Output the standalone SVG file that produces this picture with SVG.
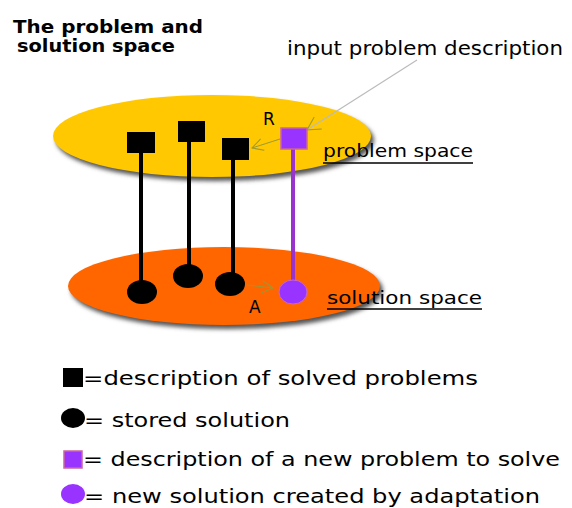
<svg xmlns="http://www.w3.org/2000/svg" width="572" height="508" viewBox="0 0 572 508">
<style>
.t{font-family:"DejaVu Sans","Liberation Sans",sans-serif;fill:#000}
.title{font-family:"DejaVu Sans","Liberation Sans",sans-serif;font-weight:bold;font-size:17px;fill:#000}
.blk{fill:#000}
.pur{fill:#9933FF;stroke:#CC6699;stroke-width:1.5}
.stem{stroke:#000;stroke-width:4}
.pstem{stroke:#9933CC;stroke-width:4}
.ul{stroke:#000;stroke-width:1.5}
.thin{stroke:#999933;stroke-width:1;fill:none}
</style>
<defs>
<filter id="sh" x="-10%" y="-20%" width="120%" height="150%"><feGaussianBlur stdDeviation="2"/></filter>
<marker id="ah" markerWidth="14" markerHeight="14" refX="12" refY="7" orient="auto" markerUnits="userSpaceOnUse"><path d="M1,1 L12,7 L1,13" fill="none" stroke="#999933" stroke-width="1"/></marker>
<marker id="ahg" markerWidth="16" markerHeight="16" refX="14" refY="8" orient="auto" markerUnits="userSpaceOnUse"><path d="M1,1 L14,8 L1,15" fill="none" stroke="#999933" stroke-width="1"/></marker>
</defs>
<rect width="572" height="508" fill="#fff"/>
<g id="title">
<text class="title" x="13" y="33" textLength="190" lengthAdjust="spacingAndGlyphs">The problem and</text>
<text class="title" x="17" y="52" textLength="158" lengthAdjust="spacingAndGlyphs">solution space</text>
</g>
<g id="problem-space">
<ellipse cx="215" cy="140" rx="159" ry="41" fill="#555" filter="url(#sh)"/>
<ellipse cx="212" cy="136" rx="159" ry="41" fill="#FFC800"/>
<text class="t" x="323" y="157" font-size="18" textLength="150" lengthAdjust="spacingAndGlyphs">problem space</text>
<line class="ul" x1="323" y1="163" x2="473" y2="163"/>
</g>
<g id="solution-space">
<ellipse cx="227" cy="290" rx="156" ry="39" fill="#555" filter="url(#sh)"/>
<ellipse cx="224" cy="286" rx="156" ry="39" fill="#FF6600"/>
<text class="t" x="327" y="304" font-size="18" textLength="155" lengthAdjust="spacingAndGlyphs">solution space</text>
<line class="ul" x1="327" y1="309" x2="482" y2="309"/>
</g>
<g id="connectors">
<line class="stem" x1="141" y1="150" x2="141" y2="292"/>
<line class="stem" x1="189" y1="140" x2="189" y2="276"/>
<line class="stem" x1="233" y1="158" x2="233" y2="284"/>
<line class="pstem" x1="293" y1="148" x2="293" y2="292"/>
<line stroke="#BBBBBB" stroke-width="1.2" x1="417" y1="60" x2="307" y2="130" marker-end="url(#ahg)"/>
<line class="thin" x1="280" y1="139" x2="252" y2="148" marker-end="url(#ah)"/>
<line class="thin" x1="247" y1="285" x2="273" y2="288" marker-end="url(#ah)"/>
</g>
<g id="p1"><rect class="blk" x="127" y="132" width="28" height="21"/></g>
<g id="p2"><rect class="blk" x="178" y="121" width="27" height="21"/></g>
<g id="p3"><rect class="blk" x="222" y="138" width="27" height="22"/></g>
<g id="pnew"><rect class="pur" x="281" y="128" width="26" height="21"/></g>
<g id="s1"><ellipse class="blk" cx="142" cy="292" rx="15" ry="12"/></g>
<g id="s2"><ellipse class="blk" cx="188" cy="276" rx="15" ry="12"/></g>
<g id="s3"><ellipse class="blk" cx="230" cy="284" rx="15" ry="12"/></g>
<g id="snew"><ellipse cx="293" cy="292" rx="14" ry="12" fill="#9933FF" stroke="#CC66CC" stroke-width="1"/></g>
<g id="labels">
<text class="t" x="263" y="125" font-size="17">R</text>
<text class="t" x="249" y="313" font-size="17">A</text>
<text class="t" x="287" y="55" font-size="19" textLength="276" lengthAdjust="spacingAndGlyphs">input problem description</text>
</g>
<g id="legend">
<rect class="blk" x="63" y="368" width="20" height="19"/>
<text class="t" x="83" y="385" font-size="20" textLength="395" lengthAdjust="spacingAndGlyphs">=description of solved problems</text>
<ellipse class="blk" cx="73" cy="418" rx="12" ry="10"/>
<text class="t" x="84" y="427" font-size="20" textLength="206" lengthAdjust="spacingAndGlyphs">= stored solution</text>
<rect class="pur" x="64" y="451" width="18" height="17"/>
<text class="t" x="83" y="466" font-size="20" textLength="477" lengthAdjust="spacingAndGlyphs">= description of a new problem to solve</text>
<ellipse cx="73" cy="494" rx="12" ry="10" fill="#9933FF"/>
<text class="t" x="84" y="503" font-size="20" textLength="456" lengthAdjust="spacingAndGlyphs">= new solution created by adaptation</text>
</g>
</svg>
